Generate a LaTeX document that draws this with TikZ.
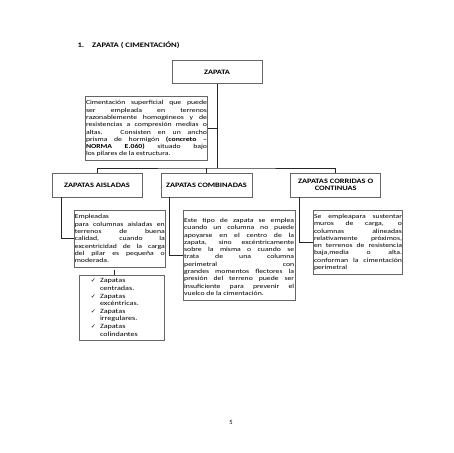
\documentclass[tikz,border=0pt]{standalone}
\usepackage{fontspec}
\setmainfont{Carlito}
\newfontfamily\widefont[FakeStretch=1.25]{Carlito}
\newfontfamily\symfont{DejaVu Sans}
\usetikzlibrary{calc,positioning}

\begin{document}
\hyphenpenalty=10000 \exhyphenpenalty=10000 \tolerance=10000
\begin{tikzpicture}[x=1pt,y=-1pt]
    % Styles for the boxes and the lines
    \tikzset{
        titlebox/.style={draw=black!60, line width=0.7pt, align=center,
            inner sep=1pt, font=\widefont\fontsize{6.7}{7.4}\selectfont\bfseries},
        textbox/.style={draw=black!60, line width=0.7pt, align=justify,
            inner sep=0.8pt, font=\widefont\fontsize{6.2}{7.3}\selectfont},
        link/.style={draw=black!85, line width=0.6pt}
    }
    \newcommand\tickmark{\leavevmode\llap{{\symfont\fontsize{6}{6}\selectfont ✓}\hspace{4pt}}}
    \useasboundingbox (0,0) rectangle (453,453);

    % Heading
    \node[anchor=west, font=\widefont\fontsize{6.9}{7.4}\selectfont\bfseries]
        (heading) at (74,45) {1.\hspace{8pt}ZAPATA ( CIMENTACIÓN)};

    % Top box and its description
    \node[titlebox, minimum width=90, minimum height=22.5] (zapata) at (217,72) {ZAPATA};
    \node[textbox, text width=121, minimum height=64] (zdesc) at (146.5,128.7)
        {Cimentación superficial que puede\linebreak
         ser empleada en terrenos\linebreak
         razonablemente homogéneos y de\linebreak
         resistencias a compresión medias o\linebreak
         altas. Consisten en un ancho\linebreak
         prisma de hormigón \textbf{(concreto –}\linebreak
         \textbf{NORMA E.060)} situado bajo\linebreak
         los pilares de la estructura.};

    % The three kinds
    \node[titlebox, minimum width=90, minimum height=24] (aisl) at (97,185) {ZAPATAS AISLADAS};
    \node[titlebox, minimum width=91, minimum height=24] (comb) at (206.5,185) {ZAPATAS COMBINADAS};
    \node[titlebox, minimum width=90, minimum height=24] (corr) at (335.7,185)
        {ZAPATAS CORRIDAS O\\CONTINUAS};

    % Descriptions of the three kinds
    \node[textbox, text width=90, minimum height=56.7, anchor=north] (adesc) at (119.8,210)
        {Empleadas\\
         para columnas aisladas en\linebreak
         terrenos de buena\linebreak
         calidad, cuando la\linebreak
         excentricidad de la carga\linebreak
         del pilar es pequeña o\linebreak
         moderada.};
    \node[textbox, text width=110, minimum height=90, anchor=north] (cdesc) at (239.2,210)
        {\mbox{}\\
         Este tipo de zapata se emplea\linebreak
         cuando un columna no puede\linebreak
         apoyarse en el centro de la\linebreak
         zapata, sino excéntricamente\linebreak
         sobre la misma o cuando se\linebreak
         trata de una columna\linebreak
         perimetral con\linebreak
         grandes momentos flectores la\linebreak
         presión del terreno puede ser\linebreak
         insuficiente para prevenir el\linebreak
         vuelco de la cimentación.};
    \node[textbox, text width=88, minimum height=64, anchor=north] (rdesc) at (358,210)
        {Se empleapara sustentar\linebreak
         muros de carga, o\linebreak
         columnas alineadas\linebreak
         relativamente próximos,\linebreak
         en terrenos de resistencia\linebreak
         baja,media o alta.\linebreak
         conforman la cimentación\linebreak
         perimetral};

    % Checklist of the isolated footings
    \node[textbox, align=left, text width=43, minimum width=85, minimum height=65,
        inner sep=2pt, font=\widefont\fontsize{6.5}{7.6}\selectfont] (list) at (121.5,307.5)
        {\tickmark Zapatas\\ centradas.\\
         \tickmark Zapatas\\ excéntricas.\\
         \tickmark Zapatas\\ irregulares.\\
         \tickmark Zapatas\\ colindantes};
    \coordinate (tick) at (114,270);

    % Connectors
    \coordinate (bus) at (217,168);
    \draw[link] (zapata.south) -- (bus);
    \draw[link] (zdesc.east) -- (zdesc.east -| zapata.south);
    \draw[link] (aisl.north) |- (bus) -| (corr.north);
    \draw[link] (comb.north) -- (comb.north |- bus);
    \draw[link] ($(aisl.south west)+(9.7,0)$) |- (adesc.west);
    \draw[link] ($(comb.south west)+(9,0)$) |- (cdesc.west);
    \draw[link] ($(corr.south west)+(9.3,0)$) |- (rdesc.west);
    \draw[link] (tick) -- (tick |- list.north);

    % Page number
    \node[font=\fontsize{6.5}{7}\selectfont] (page) at (231,422) {5};
\end{tikzpicture}
\end{document}
